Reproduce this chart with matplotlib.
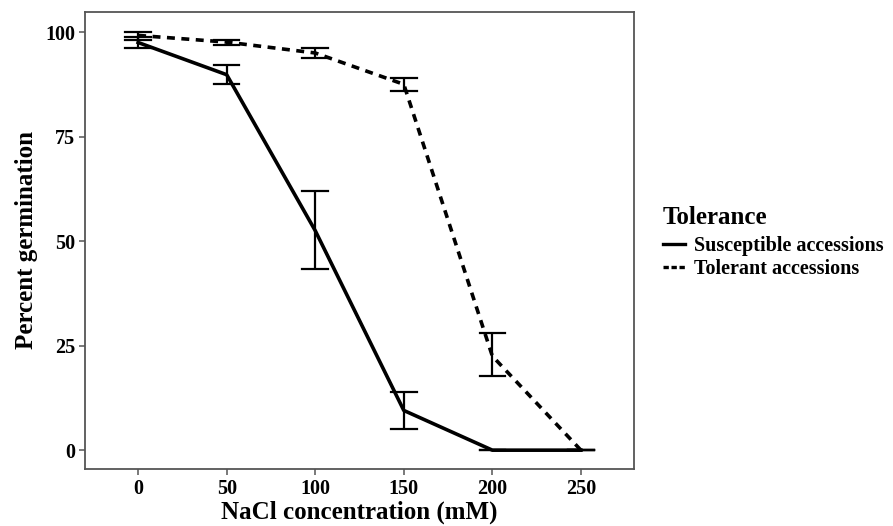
import matplotlib.pyplot as plt
from matplotlib.lines import Line2D

# NaCl concentration (mM)
nacl = [0, 50, 100, 150, 200, 250]

# percent germination, mean and lower / upper error bar
susc_mean = [97.5, 89.8, 52.5, 9.5, 0, 0]
susc_low = [96.2, 87.5, 43.3, 5.0, 0, 0]
susc_high = [98.9, 92.2, 62.0, 13.8, 0, 0]

tol_mean = [99.2, 97.6, 95.0, 87.5, 22.5, 0]
tol_low = [98.2, 97.0, 93.9, 85.9, 17.7, 0]
tol_high = [100.0, 98.2, 96.2, 89.0, 28.1, 0]

plt.rcParams['font.family'] = ['Liberation Serif', 'DejaVu Serif']
plt.rcParams['font.weight'] = 'bold'

fig = plt.figure(figsize=(8.93, 5.26), dpi=100)
ax = fig.add_axes([0.0952, 0.1084, 0.6148, 0.8688])

cap = 7.2
for mean, lo, hi, ls in [(susc_mean, susc_low, susc_high, '-'),
                         (tol_mean, tol_low, tol_high, '--')]:
    for x, l, h in zip(nacl, lo, hi):
        ax.plot([x, x], [l, h], color='black', lw=1.6, solid_capstyle='butt')
        ax.plot([x - cap, x + cap], [l, l], color='black', lw=1.6)
        ax.plot([x - cap, x + cap], [h, h], color='black', lw=1.6)
    if ls == '-':
        ax.plot(nacl, mean, color='black', lw=2.6, linestyle='-')
    else:
        ax.plot(nacl, mean, color='black', lw=2.6, linestyle=(0, (2.2, 1.8)))

ax.set_xlim(-30, 280)
ax.set_ylim(-4.5, 104.8)
ax.set_xticks(nacl)
ax.set_yticks([0, 25, 50, 75, 100])

for s in ax.spines.values():
    s.set_color('#555555')
    s.set_linewidth(1.3)
ax.tick_params(axis='both', length=4, width=1.1, color='#555555',
               labelsize=14.5, labelcolor='black', pad=3)
for lab in ax.get_xticklabels() + ax.get_yticklabels():
    lab.set_fontweight('bold')

ax.set_xlabel('NaCl concentration (mM)', fontsize=18, fontweight='bold', labelpad=1)
ax.set_ylabel('Percent germination', fontsize=18, fontweight='bold', labelpad=5)

handles = [Line2D([], [], color='black', lw=2.4, linestyle='-'),
           Line2D([], [], color='black', lw=2.4, linestyle=(0, (1.6, 0.8)))]
leg = fig.legend(handles, ['Susceptible accessions', 'Tolerant accessions'],
                 title='Tolerance', loc='upper left', bbox_to_anchor=(0.731, 0.627),
                 frameon=False, fontsize=14.5, handlelength=1.1, handletextpad=0.45,
                 labelspacing=0.15, borderpad=0)
leg.get_title().set_fontsize(18)
leg.get_title().set_fontweight('bold')
leg._legend_box.align = 'left'
leg._legend_box.sep = 5
for t in leg.get_texts():
    t.set_fontweight('bold')

fig.savefig('out.png', dpi=100, facecolor='white')
